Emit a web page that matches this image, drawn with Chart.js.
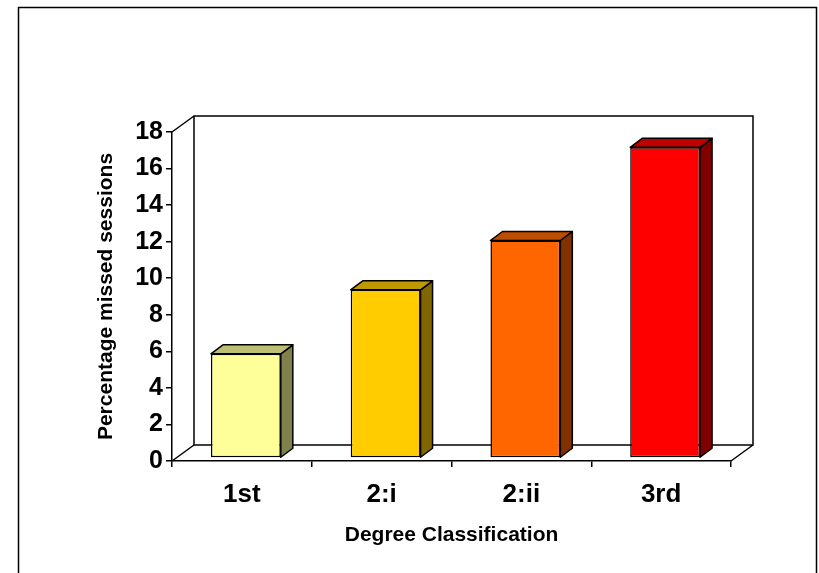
<!DOCTYPE html>
<html>
<head>
<meta charset="utf-8">
<title>Percentage missed sessions by degree classification</title>
<script src="https://cdn.jsdelivr.net/npm/chart.js@4.4.1/dist/chart.umd.min.js"></script>
<style>
  html, body { margin: 0; padding: 0; background: #fff; }
  canvas { display: block; }
</style>
</head>
<body>
<canvas id="myChart" width="819" height="573"></canvas>
<script>
// Chart data
const categories = ['1st', '2:i', '2:ii', '3rd']
const missedSessions = [5.7, 9.2, 11.9, 17.0]
const yTickValues = [0, 2, 4, 6, 8, 10, 12, 14, 16, 18]

// Bar face colours (front, right side, top)
const frontColors = ['#FFFF99', '#FFCC00', '#FF6600', '#FF0000']
const sideColors = ['#80804D', '#806600', '#803300', '#800000']
const topColors = ['#BFBF73', '#BF9900', '#BF4D00', '#BF0000']

// 3D look: depth of the walls, where the bars sit and how deep they are
const WALL_DEPTH = { x: 22, y: -16 }
const BAR_OFFSET = { x: 4, y: -3 }
const BAR_DEPTH = { x: 12, y: -9 }

const FONT = '"Liberation Sans", Arial, sans-serif'

function polygon(ctx, points, fill) {
    ctx.beginPath()
    ctx.moveTo(points[0][0], points[0][1])
    for (let i = 1; i < points.length; i++) {
        ctx.lineTo(points[i][0], points[i][1])
    }
    ctx.closePath()
    ctx.fillStyle = fill
    ctx.fill()
    ctx.stroke()
}

const box3d = {
    id: 'box3d',
    beforeDraw(chart) {
        // outer frame of the chart object
        const ctx = chart.ctx
        ctx.save()
        ctx.strokeStyle = '#000'
        ctx.lineWidth = 1.5
        ctx.beginPath()
        ctx.moveTo(18.5, chart.height + 5)
        ctx.lineTo(18.5, 7.5)
        ctx.lineTo(816.5, 7.5)
        ctx.lineTo(816.5, chart.height + 5)
        ctx.stroke()
        ctx.restore()
    },
    beforeDatasetsDraw(chart) {
        const { ctx, chartArea: a } = chart
        const dx = WALL_DEPTH.x, dy = WALL_DEPTH.y
        ctx.save()
        ctx.strokeStyle = '#000'
        ctx.lineWidth = 1.5
        ctx.beginPath()
        // back wall
        ctx.rect(a.left + dx, a.top + dy, a.right - a.left, a.bottom - a.top)
        // side wall top edge and floor edges
        ctx.moveTo(a.left, a.top)
        ctx.lineTo(a.left + dx, a.top + dy)
        ctx.moveTo(a.left, a.bottom)
        ctx.lineTo(a.left + dx, a.bottom + dy)
        ctx.moveTo(a.right, a.bottom)
        ctx.lineTo(a.right + dx, a.bottom + dy)
        ctx.stroke()
        ctx.restore()

        // bars sit a little way back from the front of the floor
        ctx.save()
        ctx.translate(BAR_OFFSET.x, BAR_OFFSET.y)
    },
    afterDatasetsDraw(chart) {
        const ctx = chart.ctx
        const dx = BAR_DEPTH.x, dy = BAR_DEPTH.y
        ctx.strokeStyle = '#000'
        ctx.lineWidth = 1.5
        ctx.lineJoin = 'round'
        chart.getDatasetMeta(0).data.forEach(function (bar, index) {
            const left = bar.x - bar.width / 2
            const right = bar.x + bar.width / 2
            const top = bar.y
            const base = bar.base
            // right side face
            polygon(ctx, [[right, top], [right + dx, top + dy], [right + dx, base + dy], [right, base]], sideColors[index])
            // top face
            polygon(ctx, [[left, top], [left + dx, top + dy], [right + dx, top + dy], [right, top]], topColors[index])
        })
        ctx.restore()
    }
}

let ctx = document.getElementById('myChart')

let myChart = new Chart(ctx, {
    type: 'bar',
    data: {
        labels: categories,
        datasets: [{
            label: 'Percentage missed sessions',
            data: missedSessions,
            backgroundColor: frontColors,
            borderColor: '#000',
            borderWidth: 1.5,
            borderSkipped: false,
            barPercentage: 0.5,
            categoryPercentage: 1.0
        }]
    },
    options: {
        responsive: false,
        animation: false,
        devicePixelRatio: 1,
        layout: {
            padding: { left: 90, top: 132, right: 88, bottom: 21 }
        },
        plugins: {
            legend: { display: false },
            tooltip: { enabled: false }
        },
        scales: {
            x: {
                grid: { drawOnChartArea: false, tickLength: 6, color: '#000', lineWidth: 1.5, offset: true },
                border: { color: '#000', width: 1.5 },
                ticks: { color: '#000', padding: 12, font: { family: FONT, size: 26, weight: 'bold' } },
                title: {
                    display: true,
                    text: 'Degree Classification',
                    color: '#000',
                    font: { family: FONT, size: 21, weight: 'bold' }
                },
                afterFit: function (scale) { scale.height = 91 }
            },
            y: {
                min: 0,
                max: 18,
                afterBuildTicks: function (scale) {
                    scale.ticks = yTickValues.map(function (v) { return { value: v } })
                },
                grid: { drawOnChartArea: false, tickLength: 6, color: '#000', lineWidth: 1.5 },
                border: { color: '#000', width: 1.5 },
                ticks: { color: '#000', padding: 3, font: { family: FONT, size: 25, weight: 'bold' } },
                title: {
                    display: true,
                    text: 'Percentage missed sessions',
                    color: '#000',
                    font: { family: FONT, size: 21, weight: 'bold' }
                },
                afterFit: function (scale) { scale.width = 82 }
            }
        }
    },
    plugins: [box3d]
})
</script>
</body>
</html>
